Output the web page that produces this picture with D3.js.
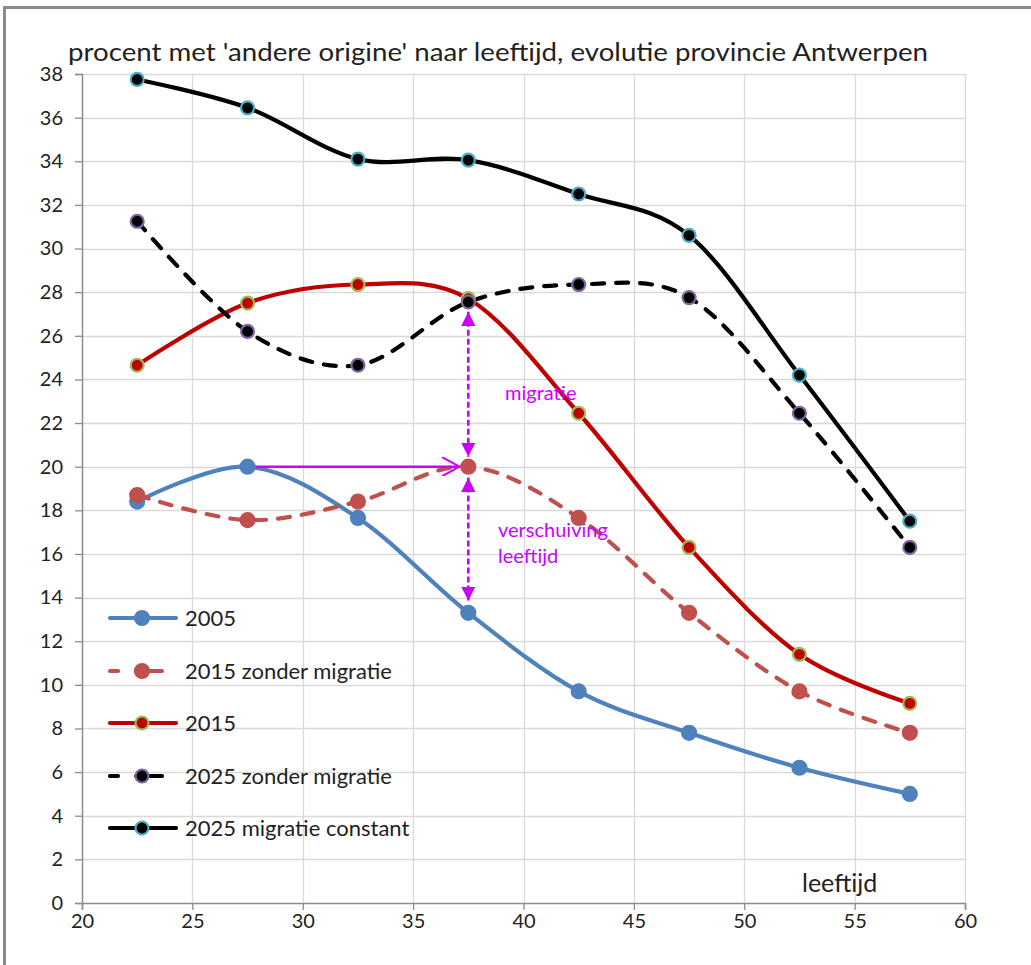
<!DOCTYPE html>
<html>
<head>
<meta charset="utf-8">
<script src="https://cdn.jsdelivr.net/npm/d3@7"></script>
<style>
  body { margin: 0; background: #fff; }
  text { font-family: Lato, "Open Sans", sans-serif; fill: #222; }
</style>
</head>
<body>
<script>
var ages = [22.5, 27.5, 32.5, 37.5, 42.5, 47.5, 52.5, 57.5];
var s2005 = [18.4, 20.0, 17.65, 13.3, 9.7, 7.8, 6.2, 5.0];
var s2015zm = [18.7, 17.55, 18.4, 20.0, 17.65, 13.3, 9.7, 7.8];
var s2015 = [24.65, 27.5, 28.35, 27.7, 22.45, 16.3, 11.4, 9.15];
var s2025zm = [31.25, 26.2, 24.65, 27.55, 28.35, 27.75, 22.45, 16.3];
var s2025mc = [37.75, 36.45, 34.1, 34.05, 32.5, 30.6, 24.2, 17.5];
var seriesNames = ["2005", "2015 zonder migratie", "2015", "2025 zonder migratie", "2025 migratie constant"];
var xTicks = [20, 25, 30, 35, 40, 45, 50, 55, 60];
var yTicks = [0, 2, 4, 6, 8, 10, 12, 14, 16, 18, 20, 22, 24, 26, 28, 30, 32, 34, 36, 38];

var width = 1031, height = 965;
var margin = { top: 74, right: 66, bottom: 62, left: 82 };
var magenta = "#cc00ff";

var svg = d3.select("body").append("svg").attr("width", width).attr("height", height);

// outer frame (top and left only visible)
svg.append("line").attr("x1", 3).attr("x2", width).attr("y1", 7.5).attr("y2", 7.5)
  .attr("stroke", "#8a8a8a").attr("stroke-width", 3);
svg.append("line").attr("x1", 4.5).attr("x2", 4.5).attr("y1", 6).attr("y2", height)
  .attr("stroke", "#8a8a8a").attr("stroke-width", 3);

var x = d3.scaleLinear().domain([20, 60]).range([margin.left, width - margin.right]);
var y = d3.scaleLinear().domain([0, 38]).range([height - margin.bottom, margin.top]);

// grid
svg.append("g").selectAll("line").data(yTicks.slice(1)).enter().append("line")
  .attr("x1", x(20)).attr("x2", x(60))
  .attr("y1", function(d) { return Math.round(y(d)) + 0.5; })
  .attr("y2", function(d) { return Math.round(y(d)) + 0.5; })
  .attr("stroke", "#d9d9d9").attr("stroke-width", 1.3);
svg.append("g").selectAll("line").data(xTicks.slice(1)).enter().append("line")
  .attr("y1", y(0)).attr("y2", y(38))
  .attr("x1", function(d) { return Math.round(x(d)) + 0.5; })
  .attr("x2", function(d) { return Math.round(x(d)) + 0.5; })
  .attr("stroke", "#d9d9d9").attr("stroke-width", 1.3);

// axes
var xAxis = svg.append("g").attr("transform", "translate(0," + y(0) + ")")
  .call(d3.axisBottom(x).tickValues(xTicks).tickSize(7).tickPadding(4));
var yAxis = svg.append("g").attr("transform", "translate(" + x(20) + ",0)")
  .call(d3.axisLeft(y).tickValues(yTicks).tickSize(7).tickPadding(12));
[xAxis, yAxis].forEach(function(a) {
  a.select(".domain").attr("stroke", "#8c8c8c").attr("stroke-width", 1.5);
  a.selectAll(".tick line").attr("stroke", "#8c8c8c").attr("stroke-width", 1.3);
  a.selectAll(".tick text").attr("font-size", 20).attr("font-family", "Lato, 'Open Sans', sans-serif").attr("fill", "#222");
});

// title and axis label
svg.append("text").attr("x", 68).attr("y", 61).attr("font-size", 25)
  .attr("textLength", 860).attr("lengthAdjust", "spacingAndGlyphs")
  .text("procent met 'andere origine' naar leeftijd, evolutie provincie Antwerpen");
svg.append("text").attr("x", 802).attr("y", 892).attr("font-size", 25).text("leeftijd");

var styles = [
  { data: s2005, stroke: "#4f81bd", dash: null, fill: "#4f81bd", ring: "#4f81bd", r: 7 },
  { data: s2015zm, stroke: "#c0504d", dash: "12,12", fill: "#c0504d", ring: "#c0504d", r: 7 },
  { data: s2015, stroke: "#c00000", dash: null, fill: "#c00000", ring: "#9bbb59", r: 6.5 },
  { data: s2025zm, stroke: "#000000", dash: "12,12", fill: "#000000", ring: "#8064a2", r: 6.5 },
  { data: s2025mc, stroke: "#000000", dash: null, fill: "#000000", ring: "#4bacc6", r: 6.5 }
];

var line = d3.line()
  .x(function(d, i) { return x(ages[i]); })
  .y(function(d) { return y(d); })
  .curve(d3.curveCardinal.tension(0));

styles.forEach(function(s) {
  svg.append("path").datum(s.data).attr("d", line)
    .attr("fill", "none").attr("stroke", s.stroke).attr("stroke-width", 4.2)
    .attr("stroke-linecap", "round").attr("stroke-dasharray", s.dash);
});

// annotation arrows
var defs = svg.append("defs");
defs.append("marker").attr("id", "tri").attr("viewBox", "0 0 10 10").attr("refX", 10).attr("refY", 5)
  .attr("markerWidth", 5.5).attr("markerHeight", 6).attr("markerUnits", "strokeWidth").attr("orient", "auto-start-reverse")
  .append("path").attr("d", "M0,0L10,5L0,10Z").attr("fill", magenta);
defs.append("marker").attr("id", "open").attr("viewBox", "0 0 12 12").attr("refX", 11).attr("refY", 6)
  .attr("markerWidth", 8).attr("markerHeight", 8).attr("markerUnits", "strokeWidth").attr("orient", "auto")
  .append("path").attr("d", "M0,0L11,6L0,12").attr("fill", "none").attr("stroke", magenta).attr("stroke-width", 1.3);

var vArrows = [[27.1, 20.45], [19.5, 13.85]];
vArrows.forEach(function(a) {
  svg.append("line").attr("x1", x(37.5)).attr("x2", x(37.5)).attr("y1", y(a[0])).attr("y2", y(a[1]))
    .attr("stroke", magenta).attr("stroke-width", 2.6).attr("stroke-dasharray", "6,3")
    .attr("marker-start", "url(#tri)").attr("marker-end", "url(#tri)");
});
svg.append("line").attr("x1", x(27.5)).attr("x2", x(37.1)).attr("y1", y(20)).attr("y2", y(20))
  .attr("stroke", magenta).attr("stroke-width", 2.4).attr("marker-end", "url(#open)");

svg.append("text").attr("x", 505).attr("y", 400).attr("font-size", 20).style("fill", magenta).text("migratie");
svg.append("text").attr("x", 498).attr("y", 537).attr("font-size", 20).style("fill", magenta).text("verschuiving");
svg.append("text").attr("x", 498).attr("y", 563).attr("font-size", 20).style("fill", magenta).text("leeftijd");

// markers
styles.forEach(function(s) {
  svg.append("g").selectAll("circle").data(s.data).enter().append("circle")
    .attr("cx", function(d, i) { return x(ages[i]); })
    .attr("cy", function(d) { return y(d); })
    .attr("r", s.r).attr("fill", s.fill).attr("stroke", s.ring).attr("stroke-width", 2.2);
});

// legend
var legendY = [618, 671, 723, 776, 828];
var lg = svg.append("g").selectAll("g").data(styles).enter().append("g")
  .attr("transform", function(d, i) { return "translate(0," + legendY[i] + ")"; });
lg.append("line").attr("x1", 110).attr("x2", function(d) { return d.dash ? 162 : 176; })
  .attr("stroke", function(d) { return d.stroke; }).attr("stroke-width", 4.2).attr("stroke-linecap", "round")
  .attr("stroke-dasharray", function(d) { return d.dash ? "8,18,30" : null; });
lg.append("circle").attr("cx", 142).attr("r", function(d) { return d.r; })
  .attr("fill", function(d) { return d.fill; }).attr("stroke", function(d) { return d.ring; }).attr("stroke-width", 2.2);
lg.append("text").attr("x", 185).attr("dy", "0.35em").attr("font-size", 22)
  .text(function(d, i) { return seriesNames[i]; });
</script>
</body>
</html>
